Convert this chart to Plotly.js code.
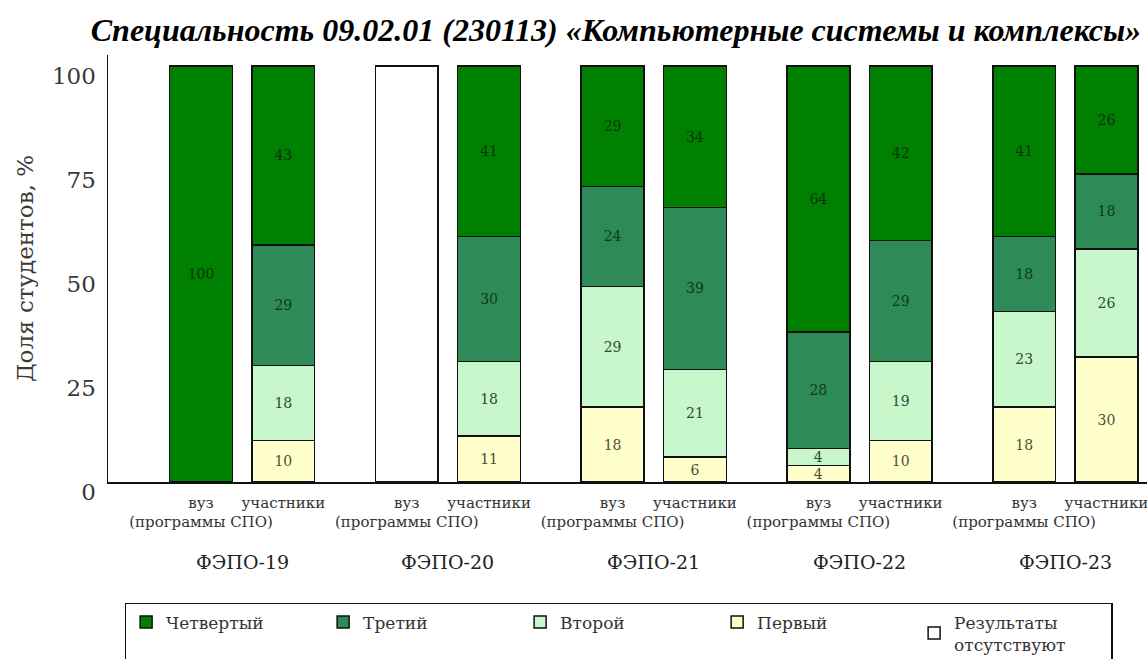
<!DOCTYPE html>
<html>
<head>
<meta charset="utf-8">
<script src="https://cdn.plot.ly/plotly-3.0.1.min.js"></script>
<style>
  html, body { margin: 0; padding: 0; background: #fff; }
  #chart { width: 1147px; height: 659px; }
</style>
</head>
<body>
<div id="chart"></div>
<script>
// Exam rounds (FEPO) and the two student groups shown in each round
const rounds = ['ФЭПО-19', 'ФЭПО-20', 'ФЭПО-21', 'ФЭПО-22', 'ФЭПО-23'];
const groupLabels = ['вуз<br>(программы СПО)', 'участники'];

// Share of students by result level, % (вуз / участники per round); null = no bar
const fourthVuz  = [100, null, 29, 64, 41];
const fourthPart = [43, 41, 34, 42, 26];
const thirdVuz   = [null, null, 24, 28, 18];
const thirdPart  = [29, 30, 39, 29, 18];
const secondVuz  = [null, null, 29, 4, 23];
const secondPart = [18, 18, 21, 19, 26];
const firstVuz   = [null, null, 18, 4, 18];
const firstPart  = [10, 11, 6, 10, 30];
const absentVuz  = [null, 100, null, null, null];
const absentPart = [null, null, null, null, null];

const yTicks = [0, 25, 50, 75, 100];

// bar positions: each round sits at an integer, its two bars either side
const offset = 0.2;
const xPos = [];
rounds.forEach((r, i) => { xPos.push(i - offset, i + offset); });
const tickText = [];
rounds.forEach(() => { tickText.push(groupLabels[0], groupLabels[1]); });

function interleave(a, b) {
  const out = [];
  a.forEach((v, i) => { out.push(v, b[i]); });
  return out;
}

const serif = 'DejaVu Serif, serif';
const outline = { color: '#111', width: 1.5 };

function levelTrace(name, vuz, part, fill, textColor, rank, showText) {
  const y = interleave(vuz, part);
  return {
    type: 'bar',
    name: name,
    x: xPos,
    y: y,
    width: 0.305,
    marker: { color: fill, line: outline },
    text: showText ? y.map(v => (v === null ? '' : String(v))) : undefined,
    textposition: showText ? 'inside' : 'none',
    insidetextanchor: 'middle',
    textangle: 0,
    textfont: { family: serif, size: 14, color: textColor },
    hoverinfo: 'skip',
    legendrank: rank
  };
}

const traces = [
  levelTrace('Первый', firstVuz, firstPart, '#ffffcc', '#4f4f30', 4, true),
  levelTrace('Второй', secondVuz, secondPart, '#c8f7cc', '#2c4c2c', 3, true),
  levelTrace('Третий', thirdVuz, thirdPart, '#2e8b57', '#0c3a1c', 2, true),
  levelTrace('Четвертый', fourthVuz, fourthPart, '#008000', '#0a340a', 1, true),
  levelTrace('Результаты<br>отсутствуют', absentVuz, absentPart, '#ffffff', '#000', 5, false)
];

const annotations = rounds.map((r, i) => ({
  text: r,
  x: i,
  xref: 'x',
  y: -0.188,
  yref: 'paper',
  yanchor: 'middle',
  showarrow: false,
  font: { family: serif, size: 19, color: '#222' }
}));

const layout = {
  width: 1147,
  height: 659,
  margin: { l: 108, r: 0, t: 55, b: 177, autoexpand: false },
  paper_bgcolor: '#fff',
  plot_bgcolor: '#fff',
  barmode: 'stack',
  title: {
    text: '<b><i>Специальность 09.02.01 (230113) «Компьютерные системы и комплексы»</i></b>',
    font: { family: 'Liberation Serif, serif', size: 32, color: '#000' },
    x: 0.537,
    xanchor: 'center',
    y: 0.955,
    yanchor: 'middle'
  },
  xaxis: {
    range: [-0.652, 4.397],
    tickvals: xPos,
    ticktext: tickText,
    tickangle: 0,
    ticks: '',
    ticklabelstandoff: 6,
    ticklabeloverflow: 'allow',
    tickfont: { family: serif, size: 15, color: '#333' },
    showgrid: false,
    zeroline: false,
    showline: true,
    linecolor: '#111',
    linewidth: 1.5,
    fixedrange: true
  },
  yaxis: {
    range: [0, 102.6],
    tickvals: yTicks,
    ticks: '',
    ticklabelshift: 10,
    ticklabelstandoff: 6,
    tickfont: { family: serif, size: 23, color: '#3a3a3a' },
    title: { text: 'Доля студентов, %', font: { family: serif, size: 23, color: '#3a3a3a' }, standoff: 12 },
    showgrid: false,
    zeroline: false,
    showline: true,
    linecolor: '#111',
    linewidth: 1.5,
    fixedrange: true
  },
  uniformtext: { minsize: 12, mode: 'show' },
  showlegend: true,
  legend: {
    orientation: 'h',
    traceorder: 'normal',
    x: 0.016,
    xanchor: 'left',
    y: -0.283,
    yanchor: 'top',
    entrywidth: 152,
    bordercolor: '#111',
    borderwidth: 1.5,
    bgcolor: '#fff',
    font: { family: serif, size: 17, color: '#333' },
    itemclick: false,
    itemdoubleclick: false
  },
  annotations: annotations
};

Plotly.newPlot('chart', traces, layout, { displayModeBar: false, staticPlot: true });
</script>
</body>
</html>
